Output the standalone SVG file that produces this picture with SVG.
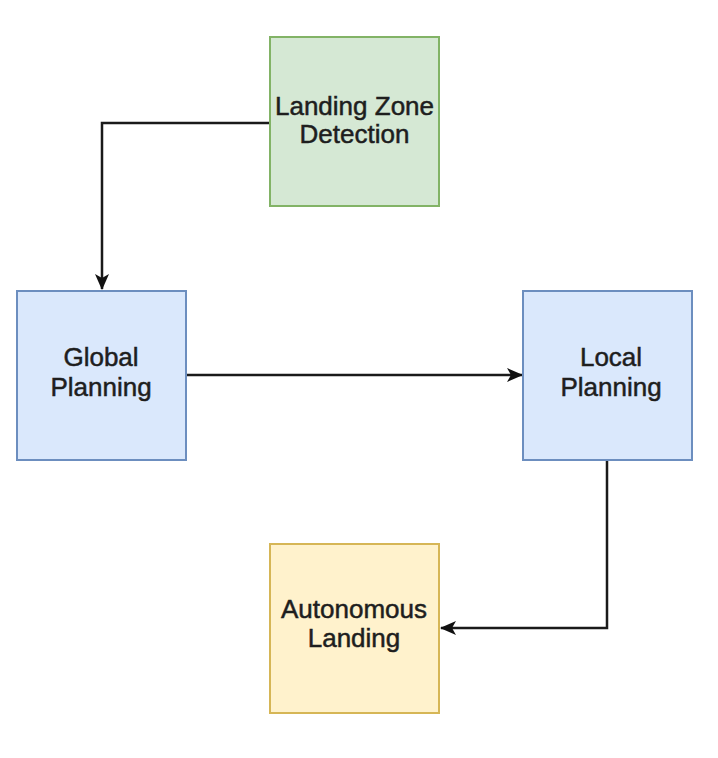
<svg xmlns="http://www.w3.org/2000/svg" width="718" height="758" viewBox="0 0 718 758">
<defs>
<style>
.box{stroke-width:2}
.green{fill:#d5e8d4;stroke:#82b366}
.blue{fill:#dae8fc;stroke:#6c8ebf}
.yellow{fill:#fff2cc;stroke:#d6b656}
.lbl{font-family:"Liberation Sans",Arial,sans-serif;font-size:26px;fill:#1e1e1e;stroke:#1e1e1e;stroke-width:0.5;text-anchor:middle}
.edge{fill:none;stroke:#1a1a1a;stroke-width:2.5}
</style>
<marker id="arr" viewBox="0 0 16 14" refX="15" refY="7" markerWidth="16" markerHeight="14" markerUnits="userSpaceOnUse" orient="auto">
<path d="M0,0 L16,7 L0,14 L4,7 Z" fill="#111"/>
</marker>
</defs>
<rect width="718" height="758" fill="#ffffff"/>
<g id="connectors">
<path class="edge" d="M270,123 H102 V289" marker-end="url(#arr)"/>
<path class="edge" d="M186,375 H522" marker-end="url(#arr)"/>
<path class="edge" d="M607,460 V628 H441" marker-end="url(#arr)"/>
</g>
<g id="landing-zone-detection">
<rect class="box green" x="270" y="37" width="169" height="169"/>
<text class="lbl" x="354.5" y="115">Landing Zone</text>
<text class="lbl" x="354.5" y="143">Detection</text>
</g>
<g id="global-planning">
<rect class="box blue" x="17" y="291" width="169" height="169"/>
<text class="lbl" x="101" y="366">Global</text>
<text class="lbl" x="101" y="396">Planning</text>
</g>
<g id="local-planning">
<rect class="box blue" x="523" y="291" width="169" height="169"/>
<text class="lbl" x="611" y="366">Local</text>
<text class="lbl" x="611" y="396">Planning</text>
</g>
<g id="autonomous-landing">
<rect class="box yellow" x="270" y="544" width="169" height="169"/>
<text class="lbl" x="354" y="618">Autonomous</text>
<text class="lbl" x="354" y="647">Landing</text>
</g>
</svg>
